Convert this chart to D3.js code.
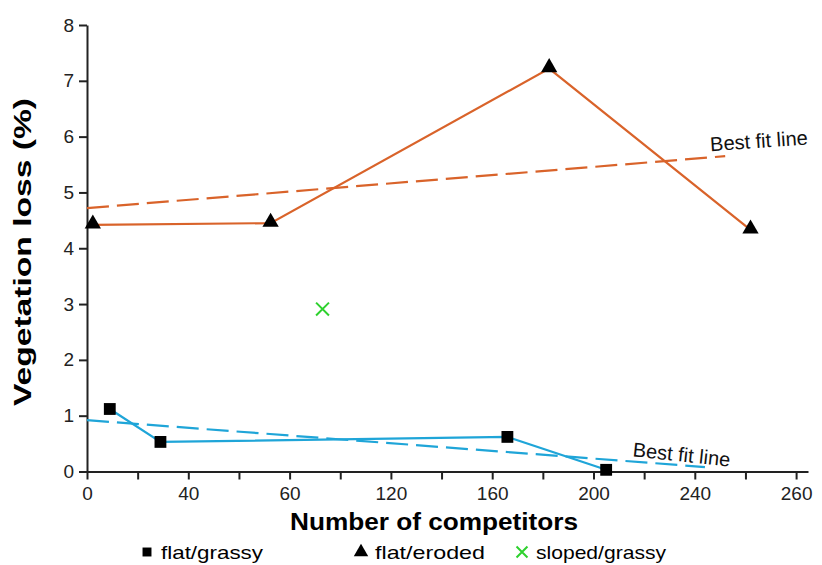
<!DOCTYPE html>
<html>
<head>
<meta charset="utf-8">
<script src="https://cdn.jsdelivr.net/npm/d3@7"></script>
<style>
  body { margin: 0; background: #fff; }
  svg { display: block; font-family: "Liberation Sans", Arial, sans-serif; }
</style>
</head>
<body>
<svg width="822" height="565"></svg>
<script>
// data
const grassyX = [9, 29, 166, 205];
const grassyY = [1.12, 0.53, 0.62, 0.03];
const erodedX = [2.3, 72.5, 182.5, 262];
const erodedY = [4.42, 4.45, 7.22, 4.33];
const slopedX = [93];
const slopedY = [2.91];
const erodedFitX = [0, 252];
const erodedFitY = [4.72, 5.65];
const grassyFitX = [0, 244];
const grassyFitY = [0.92, 0.08];
const xTickValues = [0, 20, 40, 60, 80, 100, 120, 140, 160, 180, 200, 220, 240, 260, 280];
const xTickLabels = ["0", "40", "60", "120", "160", "200", "240", "260"];
const yTickValues = [0, 1, 2, 3, 4, 5, 6, 7, 8];

const orange = "#d9632a";
const blue = "#1fa5d8";
const green = "#2ed12e";

const svg = d3.select("svg");

const x = d3.scaleLinear().domain([0, 284.7]).range([87, 808]);
const y = d3.scaleLinear().domain([0, 8]).range([471.5, 25]);

const toPts = (xs, ys) => xs.map((v, i) => [v, ys[i]]);
const line = d3.line().x(d => x(d[0])).y(d => y(d[1]));

// axes
const xAxis = svg.append("g")
    .attr("transform", `translate(0,${y(0)})`)
    .call(d3.axisBottom(x).tickValues(xTickValues).tickSizeInner(8).tickSizeOuter(0).tickPadding(7)
        .tickFormat((d, i) => i % 2 === 0 ? xTickLabels[i / 2] : ""));
const yAxis = svg.append("g")
    .attr("transform", `translate(${x(0)},0)`)
    .call(d3.axisLeft(y).tickValues(yTickValues).tickSizeInner(8).tickSizeOuter(0).tickPadding(5)
        .tickFormat(d3.format("d")));
[xAxis, yAxis].forEach(a => {
    a.selectAll("path, line").attr("stroke", "#222").attr("stroke-width", 2);
    a.selectAll("text").attr("font-size", 19).attr("fill", "#222").attr("font-family", "Liberation Sans, Arial, sans-serif");
});

// best fit lines
svg.append("path").datum(toPts(erodedFitX, erodedFitY))
    .attr("d", line).attr("fill", "none").attr("stroke", orange)
    .attr("stroke-width", 2.2).attr("stroke-dasharray", "22,8");
svg.append("path").datum(toPts(grassyFitX, grassyFitY))
    .attr("d", line).attr("fill", "none").attr("stroke", blue)
    .attr("stroke-width", 2.2).attr("stroke-dasharray", "22,8");

// data lines
svg.append("path").datum(toPts(erodedX, erodedY))
    .attr("d", line).attr("fill", "none").attr("stroke", orange).attr("stroke-width", 2.2);
svg.append("path").datum(toPts(grassyX, grassyY))
    .attr("d", line).attr("fill", "none").attr("stroke", blue).attr("stroke-width", 2.2);

// markers
const tri = d3.symbol().type(d3.symbolTriangle).size(115);
const sq = d3.symbol().type(d3.symbolSquare).size(140);
const cross = d3.symbol().type(d3.symbolX).size(110);

svg.append("g").selectAll("path")
    .data(toPts(erodedX, erodedY))
    .join("path")
    .attr("d", tri)
    .attr("transform", d => `translate(${x(d[0])},${y(d[1]) - 1})`)
    .attr("fill", "#000");
svg.append("g").selectAll("path")
    .data(toPts(grassyX, grassyY))
    .join("path")
    .attr("d", sq)
    .attr("transform", d => `translate(${x(d[0])},${y(d[1])})`)
    .attr("fill", "#000");
svg.append("g").selectAll("path")
    .data(toPts(slopedX, slopedY))
    .join("path")
    .attr("d", cross)
    .attr("transform", d => `translate(${x(d[0])},${y(d[1])})`)
    .attr("fill", "none").attr("stroke", green).attr("stroke-width", 2);

// best fit labels
svg.append("text")
    .attr("transform", `translate(${x(265.5)},${y(5.8)}) rotate(-4)`)
    .attr("text-anchor", "middle").attr("font-size", 20).attr("fill", "#111")
    .text("Best fit line");
svg.append("text")
    .attr("transform", `translate(${x(234.5)},${y(0.18)}) rotate(6)`)
    .attr("text-anchor", "middle").attr("font-size", 20).attr("fill", "#111")
    .text("Best fit line");

// axis titles
svg.append("text")
    .attr("x", 434).attr("y", 530)
    .attr("text-anchor", "middle").attr("font-size", 23).attr("font-weight", "bold")
    .attr("textLength", 288).attr("lengthAdjust", "spacingAndGlyphs")
    .text("Number of competitors");
svg.append("text")
    .attr("transform", "translate(31,252) rotate(-90)")
    .attr("text-anchor", "middle").attr("font-size", 24).attr("font-weight", "bold")
    .attr("textLength", 308).attr("lengthAdjust", "spacingAndGlyphs")
    .text("Vegetation loss (%)");

// legend
const legendItems = [
    { label: "flat/grassy", sym: d3.symbol().type(d3.symbolSquare).size(80), fill: "#000", stroke: "none", x: 147, w: 102 },
    { label: "flat/eroded", sym: d3.symbol().type(d3.symbolTriangle).size(90), fill: "#000", stroke: "none", x: 361, w: 110 },
    { label: "sloped/grassy", sym: d3.symbol().type(d3.symbolX).size(80), fill: "none", stroke: green, x: 522, w: 130 }
];
const legend = svg.append("g").attr("transform", "translate(0,552)");
legendItems.forEach(it => {
    const g = legend.append("g").attr("transform", `translate(${it.x},0)`);
    g.append("path").attr("d", it.sym()).attr("fill", it.fill)
        .attr("stroke", it.stroke).attr("stroke-width", 2);
    g.append("text").attr("x", 14).attr("y", 7).attr("font-size", 19)
        .attr("textLength", it.w).attr("lengthAdjust", "spacingAndGlyphs")
        .text(it.label);
});
</script>
</body>
</html>
